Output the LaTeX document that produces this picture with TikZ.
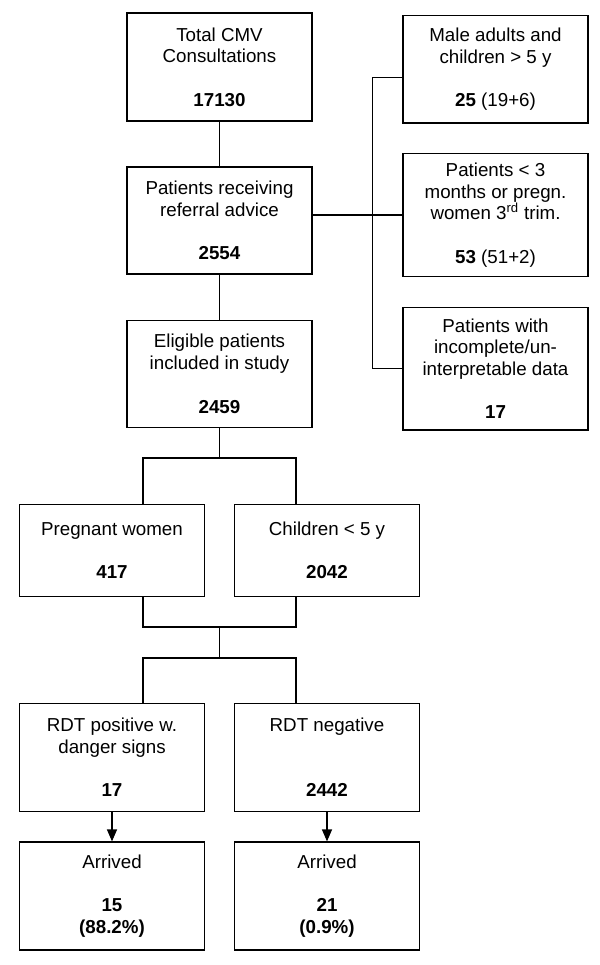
\documentclass[tikz,border=0pt]{standalone}
\usepackage{fontspec}
\setmainfont{Liberation Sans}
\usetikzlibrary{arrows.meta}

\tikzset{
  box/.style={draw, line width=1pt, minimum width=5.55cm, align=center,
    font=\fontsize{16}{18.5}\selectfont},
  link/.style={line width=1pt},
  arrive/.style={line width=1pt, -{Triangle[length=0.36cm,width=0.3cm]}}
}

\begin{document}
\begin{tikzpicture}[x=0.03cm, y=-0.03cm]

  \useasboundingbox (0,0) rectangle (600,965);

  \node [box, minimum height=3.24cm] (total) at (219.5, 67) {Total CMV\\Consultations\\[18.5pt]\textbf{17130}};
  \node [box, minimum height=3.21cm] (referral) at (219.5, 220.5) {Patients receiving\\referral advice\\[18.5pt]\textbf{2554}};
  \node [box, minimum height=3.21cm] (eligible) at (219.5, 373.8) {Eligible patients\\included in study\\[18.5pt]\textbf{2459}};

  \node [box, minimum height=3.22cm] (male) at (495.5, 69.4) {Male adults and\\children > 5 y\\[18.5pt]\textbf{25} (19+6)};
  \node [box, minimum height=3.68cm] (months) at (495.5, 215) {Patients < 3\\months or pregn.\\women 3\textsuperscript{rd} trim.\\[18.5pt]\textbf{53} (51+2)};
  \node [box, minimum height=3.68cm] (incomplete) at (495.5, 368.7) {Patients with\\incomplete/un-\\interpretable data\\[18.5pt]\textbf{17}};

  \node [box, minimum height=2.78cm] (pregnant) at (112, 550.5) {Pregnant women\\[18.5pt]\textbf{417}};
  \node [box, minimum height=2.78cm] (children) at (327, 550.5) {Children < 5 y\\[18.5pt]\textbf{2042}};

  \node [box, minimum height=3.26cm] (positive) at (112, 757.5) {RDT positive w.\\danger signs\\[18.5pt]\textbf{17}};
  \node [box, minimum height=3.26cm] (negative) at (327, 757.5) {RDT negative\\[37pt]\textbf{2442}};

  \node [box, minimum height=3.24cm] (arrivedpos) at (112, 896) {Arrived\\[18.5pt]\textbf{15}\\\textbf{(88.2\%)}};
  \node [box, minimum height=3.24cm] (arrivedneg) at (327, 896) {Arrived\\[18.5pt]\textbf{21}\\\textbf{(0.9\%)}};

  \coordinate (splitl) at (143, 458);
  \coordinate (splitr) at (296, 458);
  \coordinate (mergel) at (143, 627);
  \coordinate (merger) at (296, 627);
  \coordinate (rdtl) at (143, 658);
  \coordinate (rdtr) at (296, 658);

  \draw [link] (total) -- (referral);
  \draw [link] (referral) -- (eligible);
  \draw [link] (referral.east |- months.west) -- (months.west);
  \draw [link] ([yshift=-0.24cm]male.west) -- ++(-30,0) |- (incomplete.west);

  \draw [link] (eligible.south) -- (eligible.south |- splitl);
  \draw [link] (splitl |- pregnant.north) -- (splitl) -- (splitr) -- (splitr |- children.north);
  \draw [link] (mergel |- pregnant.south) -- (mergel) -- (merger) -- (merger |- children.south);
  \draw [link] (eligible.south |- mergel) -- (eligible.south |- rdtl);
  \draw [link] (rdtl |- positive.north) -- (rdtl) -- (rdtr) -- (rdtr |- negative.north);

  \draw [arrive] (positive) -- (arrivedpos);
  \draw [arrive] (negative) -- (arrivedneg);
\end{tikzpicture}
\end{document}
